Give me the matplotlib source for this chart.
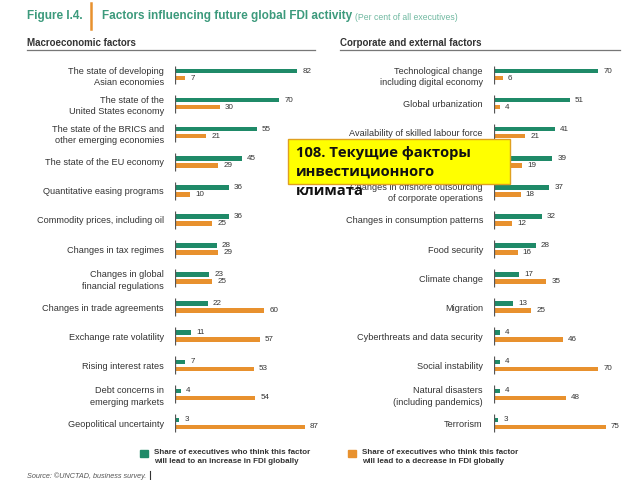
import matplotlib
matplotlib.use("Agg")
import matplotlib.pyplot as plt
import numpy as np
from matplotlib.patches import Rectangle

GREEN = '#1f8a68'
ORANGE = '#e8912e'
TITLE_GREEN = '#3c9a7c'
TEXT = '#333333'

NARROW = ['Liberation Sans Narrow', 'Liberation Sans', 'DejaVu Sans']
SANS = ['Liberation Sans', 'DejaVu Sans']

macro_labels = [
    'The state of developing\nAsian economies',
    'The state of the\nUnited States economy',
    'The state of the BRICS and\nother emerging economies',
    'The state of the EU economy',
    'Quantitative easing programs',
    'Commodity prices, including oil',
    'Changes in tax regimes',
    'Changes in global\nfinancial regulations',
    'Changes in trade agreements',
    'Exchange rate volatility',
    'Rising interest rates',
    'Debt concerns in\nemerging markets',
    'Geopolitical uncertainty',
]
macro_increase = [82, 70, 55, 45, 36, 36, 28, 23, 22, 11, 7, 4, 3]
macro_decrease = [7, 30, 21, 29, 10, 25, 29, 25, 60, 57, 53, 54, 87]

corp_labels = [
    'Technological change\nincluding digital economy',
    'Global urbanization',
    'Availability of skilled labour force',
    'Energy security',
    'Changes in offshore outsourcing\nof corporate operations',
    'Changes in consumption patterns',
    'Food security',
    'Climate change',
    'Migration',
    'Cyberthreats and data security',
    'Social instability',
    'Natural disasters\n(including pandemics)',
    'Terrorism',
]
corp_increase = [70, 51, 41, 39, 37, 32, 28, 17, 13, 4, 4, 4, 3]
corp_decrease = [6, 4, 21, 19, 18, 12, 16, 35, 25, 46, 70, 48, 75]

W, H = 640, 480
fig = plt.figure(figsize=(W / 100, H / 100), dpi=100)
fig.patch.set_facecolor('white')


def panel(x0, labels, inc, dec):
    # axes placed in pixel space: 0..100 % spans 149 px, 13 rows span 378 px
    ax = fig.add_axes([x0 / W, (H - 438) / H, 149 / W, 378 / H])
    y = np.arange(len(labels))
    ax.barh(y - 0.12, inc, height=0.155, color=GREEN)
    ax.barh(y + 0.12, dec, height=0.155, color=ORANGE)
    ax.vlines(np.zeros(len(y)), y - 0.31, y + 0.31, color='#555555', lw=0.9)
    for yi, a, b in zip(y, inc, dec):
        ax.text(a + 3.4, yi - 0.12, str(a), va='center', ha='left',
                fontsize=5.8, color=TEXT, family=SANS)
        ax.text(b + 3.4, yi + 0.12, str(b), va='center', ha='left',
                fontsize=5.8, color=TEXT, family=SANS)
    ax.set_xlim(0, 100)
    ax.set_ylim(len(labels) - 0.5, -0.5)
    ax.set_yticks(y)
    ax.set_yticklabels(labels, fontsize=6.6, color=TEXT, family=SANS,
                       linespacing=1.35)
    ax.tick_params(axis='y', length=0, pad=8)
    ax.set_xticks([])
    for s in ax.spines.values():
        s.set_visible(False)
    ax.patch.set_alpha(0)
    return ax


panel(175, macro_labels, macro_increase, macro_decrease)
panel(494, corp_labels, corp_increase, corp_decrease)

# overlay in pixel coordinates for headings, legend, source and the yellow box
ov = fig.add_axes([0, 0, 1, 1])
ov.set_xlim(0, W)
ov.set_ylim(H, 0)
ov.axis('off')
ov.patch.set_alpha(0)

ov.text(27, 16, 'Figure I.4.', fontsize=8.5, fontweight='bold',
        color=TITLE_GREEN, family=NARROW, va='center')
ov.plot([91, 91], [3, 29], color=ORANGE, lw=1.8)
title = ov.text(102, 16, 'Factors influencing future global FDI activity',
                fontsize=8.5, fontweight='bold', color=TITLE_GREEN,
                family=NARROW, va='center')
renderer = fig.canvas.get_renderer()
bb = title.get_window_extent(renderer)
ov.text(bb.x1 + 3, 17, '(Per cent of all executives)', fontsize=6.2,
        color='#6fb8a0', family=NARROW, va='center')

ov.text(27, 43, 'Macroeconomic factors', fontsize=7, fontweight='bold',
        color=TEXT, family=NARROW, va='center')
ov.plot([27, 315], [50, 50], color='#777777', lw=0.9)
ov.text(340, 43, 'Corporate and external factors', fontsize=7,
        fontweight='bold', color=TEXT, family=NARROW, va='center')
ov.plot([340, 620], [50, 50], color='#777777', lw=0.9)

ov.add_patch(Rectangle((140, 450), 8, 6.5, color=GREEN))
ov.text(154, 457, 'Share of executives who think this factor\n'
        'will lead to an increase in FDI globally', fontsize=5.8,
        fontweight='bold', color=TEXT, family=SANS, va='center',
        linespacing=1.35)
ov.add_patch(Rectangle((348, 450), 8, 6.5, color=ORANGE))
ov.text(362, 457, 'Share of executives who think this factor\n'
        'will lead to a decrease in FDI globally', fontsize=5.8,
        fontweight='bold', color=TEXT, family=SANS, va='center',
        linespacing=1.35)

ov.text(27, 476, 'Source: \u00a9UNCTAD, business survey.', fontsize=5.2,
        style='italic', color='#555555', family=SANS, va='center')
ov.plot([150, 150], [471, 480], color='#333333', lw=0.8)

# yellow caption box
ov.add_patch(Rectangle((288, 139), 222, 45, facecolor='#ffff00',
                       edgecolor='#e0a020', lw=1.0))
cap_font = dict(fontsize=10.6, fontweight='bold', color='#111111',
                family=['Open Sans', 'DejaVu Sans'], va='center', ha='left')
ov.text(296, 153, '108. Текущие факторы', **cap_font)
ov.text(296, 172, 'инвестиционного', **cap_font)
ov.text(296, 191, 'климата', **cap_font)

fig.savefig('out.png', dpi=100)
